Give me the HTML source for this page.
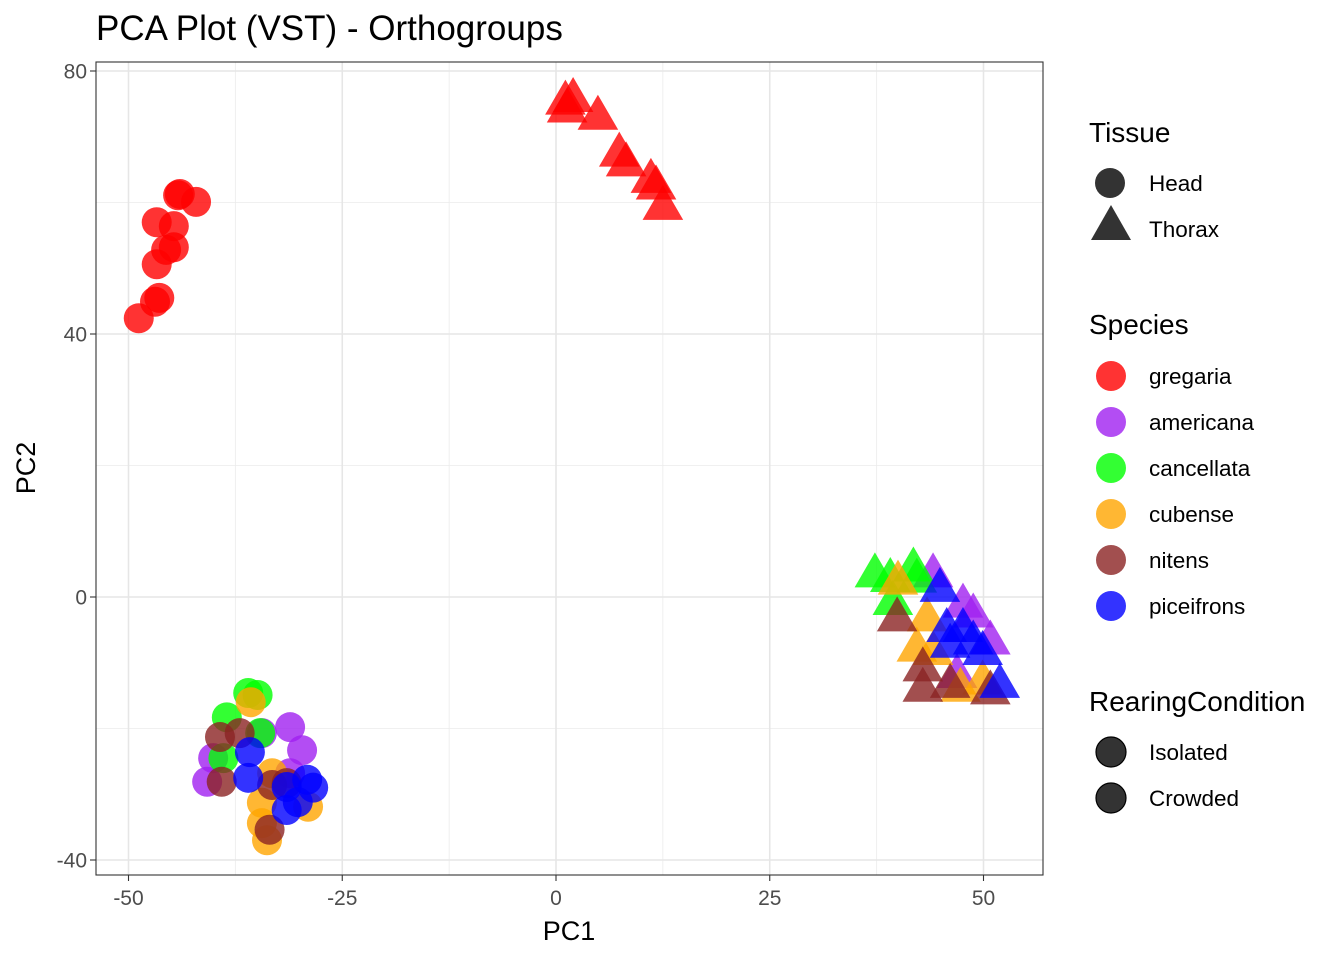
<!DOCTYPE html>
<html><head><meta charset="utf-8"><style>
body{margin:0;background:#fff;}
svg text{font-family:"Liberation Sans",Arial,sans-serif;}
</style></head><body>
<svg id="chart" width="1344" height="960" xmlns="http://www.w3.org/2000/svg">
<rect width="1344" height="960" fill="#fff"/>
<text x="96" y="40" font-size="35" fill="#000">PCA Plot (VST) - Orthogroups</text>
<g id="grid"></g>
<g id="points"></g>
<rect x="96" y="62" width="947" height="813" fill="none" stroke="#333" stroke-width="1.1"/>
<g id="axes"></g>
<text x="569" y="940" font-size="27" text-anchor="middle">PC1</text>
<text x="35" y="468" font-size="27" text-anchor="middle" transform="rotate(-90 35 468)">PC2</text>
<g id="legend"></g>
</svg>
<script>
const xTicks=[-50,-25,0,25,50];
const yTicks=[-40,0,40,80];
const xMinor=[-37.5,-12.5,12.5,37.5];
const yMinor=[-20,20,60];
const speciesNames=["gregaria","americana","cancellata","cubense","nitens","piceifrons"];
const speciesColors=["#FF0000","#A020F0","#00FF00","#FFA500","#8B2323","#0000FF"];
const headGregaria=[[-48.8,42.4],[-46.9,44.9],[-46.4,45.5],[-46.7,50.6],[-45.6,52.8],[-44.7,53.2],[-46.7,57.0],[-44.7,56.4],[-44.2,61.1],[-44.0,61.3],[-42.1,60.1]];
const headAmericana=[[-31.1,-19.8],[-29.7,-23.3],[-40.1,-24.5],[-40.8,-28.1],[-34.4,-20.7],[-31.1,-26.8]];
const headCancellata=[[-36.0,-14.6],[-34.9,-14.9],[-34.6,-20.7],[-38.5,-18.3],[-38.9,-24.5]];
const headCubense=[[-35.7,-16.0],[-34.4,-31.3],[-34.4,-34.4],[-33.8,-37.0],[-33.2,-26.8],[-29.0,-31.9]];
const headNitens=[[-39.3,-21.3],[-37.0,-20.7],[-39.1,-28.1],[-33.5,-35.4],[-31.5,-28.3],[-33.2,-28.6]];
const headPiceifrons=[[-35.8,-23.6],[-36.0,-27.5],[-31.5,-28.9],[-31.5,-32.4],[-29.1,-27.8],[-28.4,-29.0],[-30.2,-31.2]];
const thoraxGregaria=[[1.1,75.6],[2.0,76.0],[1.3,74.4],[4.9,73.3],[7.4,67.7],[8.2,66.2],[11.1,63.7],[11.7,62.7],[12.5,59.6]];
const thoraxAmericana=[[44.1,3.7],[47.6,-0.9],[48.8,-2.4],[50.8,-6.5],[46.9,-11.6]];
const thoraxCancellata=[[37.3,3.7],[39.1,3.0],[41.8,4.6],[39.4,-0.5],[42.2,2.9]];
const thoraxCubense=[[40.0,2.6],[43.4,-3.0],[42.2,-7.6],[44.1,-8.1],[47.3,-13.7],[49.9,-12.6]];
const thoraxNitens=[[39.9,-3.0],[42.9,-10.6],[42.9,-13.7],[46.1,-13.1],[50.8,-14.1]];
const thoraxPiceifrons=[[44.9,1.5],[45.7,-4.6],[47.6,-4.6],[46.1,-7.0],[48.8,-6.5],[49.9,-8.1],[51.9,-13.1]];
const heads=[headGregaria,headAmericana,headCancellata,headCubense,headNitens,headPiceifrons];
const thoraxes=[thoraxGregaria,thoraxAmericana,thoraxCancellata,thoraxCubense,thoraxNitens,thoraxPiceifrons];

const NS="http://www.w3.org/2000/svg";
const X0=96,X1=1043,Y0=62,Y1=875;
function sx(v){return 556+v*8.55;}
function sy(v){return 597-v*6.575;}
function mk(tag,attrs,parent){const e=document.createElementNS(NS,tag);for(const k in attrs)e.setAttribute(k,attrs[k]);parent.appendChild(e);return e;}
const grid=document.getElementById('grid'),axes=document.getElementById('axes'),pts=document.getElementById('points'),leg=document.getElementById('legend');
xMinor.forEach(v=>{const l=mk('line',{x1:sx(v),x2:sx(v),y1:Y0,y2:Y1,stroke:'#ebebeb','stroke-width':0.8},grid);

});
yMinor.forEach(v=>{const l=mk('line',{x1:X0,x2:X1,y1:sy(v),y2:sy(v),stroke:'#ebebeb','stroke-width':0.8},grid);

});
xTicks.forEach(v=>{const l=mk('line',{x1:sx(v),x2:sx(v),y1:Y0,y2:Y1,stroke:'#e6e6e6','stroke-width':1.6},grid);


const t=mk('line',{x1:sx(v),x2:sx(v),y1:Y1,y2:Y1+6,stroke:'#333','stroke-width':1.1},axes);


const tx=mk('text',{x:sx(v),y:Y1+30,'font-size':21,'text-anchor':'middle',fill:'#4d4d4d'},axes);tx.textContent=v;

});
yTicks.forEach(v=>{const l=mk('line',{x1:X0,x2:X1,y1:sy(v),y2:sy(v),stroke:'#e6e6e6','stroke-width':1.6},grid);


const t=mk('line',{x1:X0-6,x2:X0,y1:sy(v),y2:sy(v),stroke:'#333','stroke-width':1.1},axes);


const tx=mk('text',{x:X0-9,y:sy(v)+7.5,'font-size':21,'text-anchor':'end',fill:'#4d4d4d'},axes);tx.textContent=v;

});
function tri(cx,cy,s){return `${cx},${cy-s*0.58} ${cx-s*0.58},${cy+s*0.42} ${cx+s*0.58},${cy+s*0.42}`;}
heads.forEach((arr,i)=>arr.forEach(p=>{const c=mk('circle',{cx:sx(p[0]),cy:sy(p[1]),r:15,fill:speciesColors[i],'fill-opacity':0.8},pts);

}));
thoraxes.forEach((arr,i)=>arr.forEach(p=>{const c=mk('polygon',{points:tri(sx(p[0]),sy(p[1]),35),fill:speciesColors[i],'fill-opacity':0.8},pts);

}));
function title(txt,y){const t=mk('text',{x:1089,y:y,'font-size':28,fill:'#000'},leg);t.textContent=txt;

}
function label(txt,y){const t=mk('text',{x:1149,y:y+8,'font-size':22.5,fill:'#000'},leg);t.textContent=txt;

}
title('Tissue',142);
let c=mk('circle',{cx:1110,cy:183,r:15,fill:'#333'},leg);


label('Head',183);
c=mk('polygon',{points:'1091,240 1111,205 1131,240',fill:'#333'},leg);


label('Thorax',229);
title('Species',334);
speciesNames.forEach((n,i)=>{const y=376+46*i;const k=mk('circle',{cx:1111,cy:y,r:15,fill:speciesColors[i],'fill-opacity':0.8},leg);


label(n,y);});
title('RearingCondition',711);
['Isolated','Crowded'].forEach((n,i)=>{const y=752+46*i;const k=mk('circle',{cx:1111,cy:y,r:15,fill:'#333','fill-opacity':1,stroke:'#000','stroke-width':1.2},leg);


label(n,y);});
</script>
</body></html>
